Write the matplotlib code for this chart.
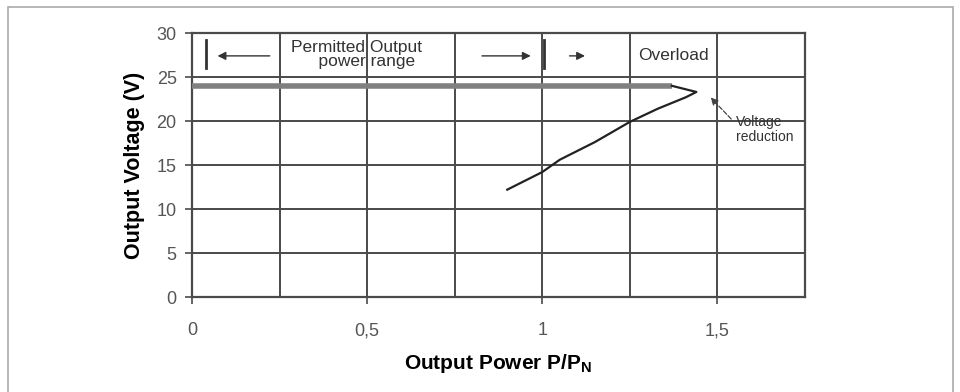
import matplotlib.pyplot as plt
from matplotlib.patches import Rectangle

plt.rcParams['font.family'] = ['Liberation Sans', 'DejaVu Sans']

# curve: constant 24 V, then fold-back into voltage reduction
flat_x = [0.0, 1.37]
flat_y = [24.0, 24.0]
fold_x = [1.37, 1.44, 1.41, 1.33, 1.25, 1.15, 1.05, 1.0, 0.9]
fold_y = [24.0, 23.3, 22.7, 21.4, 19.9, 17.6, 15.6, 14.2, 12.2]

x_ticks = [0, 0.5, 1, 1.5]
x_labels = ["0", "0,5", "1", "1,5"]
y_ticks = [0, 5, 10, 15, 20, 25, 30]
x_grid = [0.25, 0.5, 0.75, 1.0, 1.25, 1.5]

fig = plt.figure(figsize=(9.6, 3.92), dpi=100)
ax = fig.add_axes([0.2, 0.2423, 0.6385, 0.6735])

grid_col = "#4a4a4a"
for xv in x_grid:
    ax.axvline(xv, color=grid_col, lw=1.4, zorder=1)
for yv in y_ticks[1:-1]:
    ax.axhline(yv, color=grid_col, lw=1.4, zorder=1)

ax.plot(flat_x, flat_y, color="#808080", lw=4, solid_capstyle="butt", zorder=3)
ax.plot(fold_x, fold_y, color="#222222", lw=1.6, zorder=3)

ax.set_xlim(0, 1.75)
ax.set_ylim(0, 30)
ax.set_xticks(x_ticks)
ax.set_xticklabels(x_labels)
ax.set_yticks(y_ticks)
ax.tick_params(axis="both", direction="out", length=5, width=1.2, color=grid_col,
               labelcolor="#555555", labelsize=13)
ax.tick_params(axis="x", pad=13)
ax.tick_params(axis="y", pad=6)
for s in ax.spines.values():
    s.set_color(grid_col)
    s.set_linewidth(1.6)

ax.set_xlabel("Output Power P/P$_\\mathregular{N}$", fontsize=15, fontweight="bold", labelpad=9)
ax.set_ylabel("Output Voltage (V)", fontsize=15.5, fontweight="bold", labelpad=8)

# annotations
txt_col = "#333333"
arr = dict(arrowstyle="-|>", color=txt_col, lw=1, mutation_scale=12)
ax.plot([0.04, 0.04], [26.0, 29.2], color=txt_col, lw=2)
ax.annotate("", xy=(0.065, 27.4), xytext=(0.23, 27.4), arrowprops=arr)
ax.text(0.47, 27.6, "Permitted Output\n    power range", ha="center", va="center",
        fontsize=12.5, color=txt_col, linespacing=0.9)
ax.annotate("", xy=(0.975, 27.4), xytext=(0.82, 27.4), arrowprops=arr)
ax.plot([1.005, 1.005], [26.0, 29.2], color=txt_col, lw=2)
ax.annotate("", xy=(1.13, 27.4), xytext=(1.07, 27.4), arrowprops=arr)
ax.text(1.275, 27.4, "Overload", ha="left", va="center", fontsize=12.5, color=txt_col)

ax.text(1.552, 19.0, "Voltage\nreduction", ha="left", va="center", fontsize=10,
        color=txt_col, linespacing=1.1)
ax.annotate("", xy=(1.475, 22.9), xytext=(1.545, 20.0),
            arrowprops=dict(arrowstyle="-|>", color="#444444", lw=0.9, ls="--",
                            mutation_scale=11))

fig.patches.append(Rectangle((8 / 960, -0.02), 945 / 960, 1 - 7 / 392 + 0.02,
                             transform=fig.transFigure, fill=False,
                             edgecolor="#aaaaaa", lw=1.2))

fig.savefig("out.png", dpi=100)
